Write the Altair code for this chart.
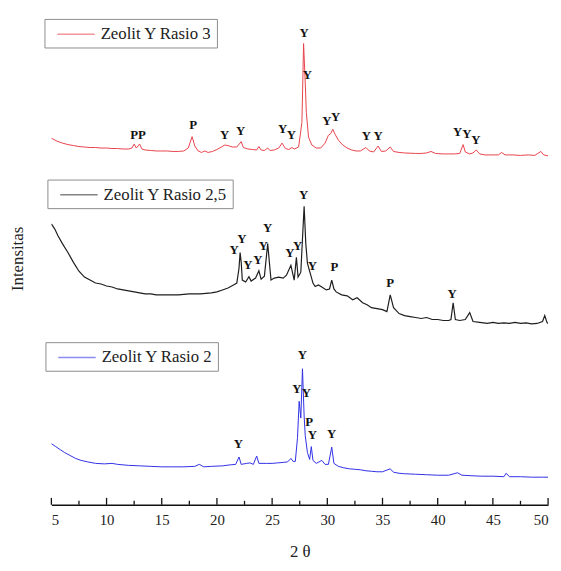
import altair as alt
import pandas as pd

# ---------- Zeolit Y Rasio 3 (red) ----------
r3_theta = [5.0, 5.5, 6.0, 6.5, 7.0, 7.5, 8.0, 8.5, 9.0, 9.5,
            10.0, 10.5, 11.0, 11.5, 12.0, 12.3, 12.5, 12.7, 13.0, 13.2,
            13.5, 14.0, 14.5, 15.0, 15.5, 16.0, 16.5, 17.0, 17.4, 17.75,
            18.0, 18.3, 18.6, 18.9, 19.2, 19.6, 20.0, 20.4, 20.7, 21.0,
            21.4, 21.8, 22.2, 22.4, 22.8, 23.2, 23.6, 23.8, 24.0, 24.3,
            24.6, 24.8, 25.2, 25.6, 25.9, 26.2, 26.5, 26.8, 27.0, 27.4,
            27.7, 27.85, 28.0, 28.1, 28.3, 28.6, 29.0, 29.4, 29.8, 30.1,
            30.3, 30.5, 30.7, 31.0, 31.4, 31.8, 32.2, 32.6, 33.0, 33.5,
            33.8, 34.2, 34.6, 34.9, 35.3, 35.7, 36.0, 36.5, 37.0, 38.0,
            38.5, 39.0, 39.4, 39.8, 40.5, 41.0, 41.5, 42.0, 42.3, 42.5,
            42.9, 43.2, 43.5, 43.8, 44.3, 45.0, 45.5, 45.8, 46.1, 46.8,
            47.5, 48.2, 48.8, 49.35, 49.6, 50.0]
r3_int = [372, 369, 367, 365.5, 364.5, 363.5, 363, 362.5, 362.5, 362,
          362, 361.5, 361.5, 361, 361, 362, 366, 362, 366, 361,
          360, 359.5, 359, 359, 359, 358.5, 358.5, 359, 362, 373.5,
          364, 359, 357.5, 359, 357.5, 358.5, 360.5, 363, 365, 364.5,
          363, 363, 368.5, 362.5, 361, 360.5, 360, 363.5, 360, 359.5,
          362, 359.5, 360, 362, 367, 361.5, 360.5, 362.5, 361, 363,
          388, 468, 428, 398, 373, 365, 362, 362, 367, 375,
          376.5, 381, 376, 370, 365, 362, 360, 359, 359, 362.5,
          359, 358, 364, 358.5, 359, 363, 358.5, 357.5, 357, 356.5,
          356.5, 357, 358.5, 356.5, 356, 356, 356, 356.5, 365.5, 358,
          356, 357, 360, 356, 355, 355, 355, 357.5, 355, 355,
          354.5, 355, 354.5, 358.5, 355, 354]

# ---------- Zeolit Y Rasio 2,5 (black) ----------
r25_theta = [5.0, 5.3, 5.6, 6.0, 6.5, 7.0, 7.5, 8.0, 8.5, 9.0,
             9.5, 10.0, 10.5, 11.0, 11.5, 12.0, 12.5, 13.0, 13.5, 14.0,
             14.5, 15.0, 15.5, 16.0, 16.5, 17.0, 17.5, 18.0, 18.5, 19.0,
             19.5, 20.0, 20.5, 21.0, 21.5, 21.8, 22.0, 22.1, 22.2, 22.3,
             22.6, 22.9, 23.1, 23.5, 23.8, 24.0, 24.3, 24.6, 24.8, 24.9,
             25.2, 25.6, 26.0, 26.3, 26.7, 27.0, 27.2, 27.35, 27.6, 27.75,
             27.9, 28.05, 28.2, 28.5, 28.7, 28.9, 29.2, 29.5, 29.9, 30.2,
             30.4, 30.6, 30.8, 31.3, 31.8, 32.3, 32.7, 33.2, 33.6, 34.0,
             34.5, 35.0, 35.4, 35.7, 36.0, 36.5, 37.0, 37.5, 38.0, 38.5,
             39.0, 39.5, 40.0, 40.5, 41.0, 41.2, 41.4, 41.6, 42.0, 42.5,
             42.9, 43.2, 43.8, 44.5, 45.0, 45.5, 46.0, 46.5, 47.0, 47.5,
             48.0, 48.5, 49.0, 49.5, 49.7, 49.9, 50.0]
r25_int = [285, 280, 273, 265, 256, 246, 237, 231, 228, 225,
           224, 222, 221, 219, 218, 217, 216, 215, 214, 214,
           213, 213, 213, 213, 213, 213.5, 214, 214, 214, 214.5,
           215, 216, 218, 220, 223, 225, 240, 256, 246, 228,
           226, 231.5, 227, 230, 237.5, 229, 232, 265, 240, 228,
           230, 231, 230, 233, 243, 228, 251, 231, 236, 270,
           303, 265, 245, 233, 225, 221.5, 223, 221, 218, 219,
           228, 219, 216, 213, 212, 208, 210, 205, 203, 200,
           199, 198, 196, 213, 200, 194, 192, 191, 190, 189,
           190, 188, 188, 187, 187, 188, 205, 188, 187, 188,
           195, 186, 185, 184, 185, 184, 184.5, 184, 185, 184,
           184.5, 183.5, 184, 186, 192, 185, 184]

# ---------- Zeolit Y Rasio 2 (blue) ----------
r2_theta = [5.0, 5.4, 5.8, 6.2, 6.7, 7.2, 7.7, 8.3, 9.0, 9.8,
            10.5, 11.0, 12.0, 13.0, 14.0, 15.0, 16.0, 17.0, 18.0, 18.4,
            18.8, 19.5, 20.5, 21.2, 21.7, 22.0, 22.2, 22.7, 23.0, 23.3,
            23.6, 23.8, 24.5, 25.0, 25.5, 26.0, 26.4, 26.7, 26.9, 27.1,
            27.3, 27.45, 27.6, 27.75, 27.9, 28.0, 28.2, 28.4, 28.55, 28.7,
            29.0, 29.5, 29.8, 30.1, 30.4, 30.6, 31.0, 31.5, 32.0, 32.5,
            33.0, 33.5, 34.0, 34.5, 35.0, 35.7, 36.0, 36.5, 37.0, 38.0,
            39.0, 40.0, 41.0, 41.8, 42.2, 43.0, 44.0, 45.0, 46.0, 46.2,
            46.5, 47.5, 48.5, 49.5, 50.0]
r2_int = [62, 59, 56, 53, 50, 47, 45, 43.5, 42, 41.5,
          42, 41, 40, 39.5, 39, 38.5, 38.5, 38.5, 39, 41,
          38.5, 39, 39.5, 40.5, 41, 48.5, 41, 42, 42.5, 41,
          49.5, 42, 42, 42, 42.5, 43, 43.5, 47, 44, 44,
          68, 105, 88, 138, 90, 70, 53, 46, 59, 45,
          42, 45, 41, 41, 58.5, 42, 39, 37.5, 36.5, 36,
          35.5, 34.5, 34, 33.5, 33.5, 36.5, 33, 32, 31.5, 31,
          30.5, 30, 30, 32.5, 30, 29.5, 29, 29, 28.5, 32,
          28.5, 28.5, 28, 28, 28]

# ---------- phase annotations (Y = zeolite Y, P = P phase) ----------
lab_theta = [12.5, 13.2, 17.85, 20.7, 22.15, 25.95, 26.75, 27.9, 28.2, 29.95,
             30.75, 33.55, 34.6, 41.8, 42.65, 43.45,
             21.55, 22.25, 22.8, 23.7, 24.2, 24.6, 26.6, 27.3, 27.85, 28.65,
             30.65, 35.7, 41.3,
             21.95, 27.25, 27.75, 28.1, 28.35, 28.65, 30.4]
lab_int = [375, 375, 385, 375, 379.5, 381, 375, 479, 436, 389,
           393, 374.5, 374.5, 378.5, 376, 370.5,
           258, 269.5, 243.5, 248.5, 263, 280.5, 255, 263, 314.5, 242,
           241, 225, 214,
           61.5, 117, 151.5, 113.5, 84, 70.5, 71.5]
lab_txt = ["P", "P", "P", "Y", "Y", "Y", "Y", "Y", "Y", "Y",
           "Y", "Y", "Y", "Y", "Y", "Y",
           "Y", "Y", "Y", "Y", "Y", "Y", "Y", "Y", "Y", "Y",
           "P", "P", "Y",
           "Y", "Y", "Y", "Y", "P", "Y", "Y"]

major_ticks = [5, 10, 15, 20, 25, 30, 35, 40, 45, 50]
minor_ticks = [7.5, 12.5, 17.5, 22.5, 27.5, 32.5, 37.5, 42.5, 47.5]

SERIF = "Liberation Serif, Times New Roman, Times, DejaVu Serif, serif"

xscale = alt.Scale(domain=[5, 50], nice=False, zero=False)
yscale = alt.Scale(domain=[0, 500], nice=False, zero=False)

xaxis = alt.Axis(values=major_ticks, format="d", ticks=False, grid=False,
                 domainColor="#111", domainWidth=1.5,
                 labelFont=SERIF, labelFontSize=15, labelColor="#222", labelPadding=8,
                 title="2 θ", titleFont=SERIF, titleFontSize=17, titleFontWeight="normal",
                 titleColor="#222", titlePadding=16)
yaxis = alt.Axis(labels=False, ticks=False, domain=False, grid=False,
                 title="Intensitas", titleFont=SERIF, titleFontSize=17,
                 titleFontWeight="normal", titleColor="#222",
                 titleX=-34, titleY=250, titleAngle=270,
                 titleAlign="center", titleBaseline="middle")


def legend_for(lx, ly):
    # wide horizontal stroke drawn beyond the nominal symbol square
    return alt.Legend(title=None, orient="none", legendX=lx, legendY=ly,
                      fillColor="white", strokeColor="#8c8c8c", padding=5,
                      symbolType="M-2,0H2", symbolSize=361, symbolStrokeWidth=1.5,
                      symbolOpacity=0.55, symbolOffset=16.5, labelOffset=14.5,
                      labelFont=SERIF, labelFontSize=17, labelColor="#222",
                      labelLimit=400)


def trace(theta, inten, name, color, width, lx, ly):
    df = pd.DataFrame({"theta": theta, "intensity": inten, "series": name})
    return alt.Chart(df).mark_line(strokeWidth=width, clip=True).encode(
        x=alt.X("theta:Q", scale=xscale, axis=xaxis),
        y=alt.Y("intensity:Q", scale=yscale, axis=yaxis),
        stroke=alt.Stroke("series:N", scale=alt.Scale(range=[color]),
                          legend=legend_for(lx, ly)),
    )


red = trace(r3_theta, r3_int, "Zeolit Y Rasio 3", "#e8424b", 1.0, -7, 7)
black = trace(r25_theta, r25_int, "Zeolit Y Rasio 2,5", "#1e1e1e", 1.2, -4, 170)
blue = trace(r2_theta, r2_int, "Zeolit Y Rasio 2", "#2f2fe6", 1.0, -6, 335)

lab_df = pd.DataFrame({"theta": lab_theta, "intensity": lab_int, "txt": lab_txt})
labels = alt.Chart(lab_df).mark_text(font=SERIF, fontWeight="bold", fontSize=13,
                                     color="#111", align="center",
                                     baseline="middle").encode(
    x=alt.X("theta:Q", scale=xscale),
    y=alt.Y("intensity:Q", scale=yscale),
    text="txt:N",
)

maj = alt.Chart(pd.DataFrame({"t": major_ticks})).mark_rule(
    color="#111", strokeWidth=1.3).encode(
    x=alt.X("t:Q", scale=xscale), y=alt.value(500), y2=alt.value(493))
mino = alt.Chart(pd.DataFrame({"t": minor_ticks})).mark_rule(
    color="#111", strokeWidth=1.3).encode(
    x=alt.X("t:Q", scale=xscale), y=alt.value(500), y2=alt.value(496))

chart = alt.layer(red, black, blue, labels, maj, mino).resolve_scale(
    stroke="independent"
).properties(
    width=504, height=500,
    autosize=alt.AutoSizeParams(type="none"),
    padding={"left": 44, "top": 0, "right": 5, "bottom": 55},
).configure_view(strokeWidth=0)

chart.save("out.html", embed_options={"renderer": "svg", "actions": False})
